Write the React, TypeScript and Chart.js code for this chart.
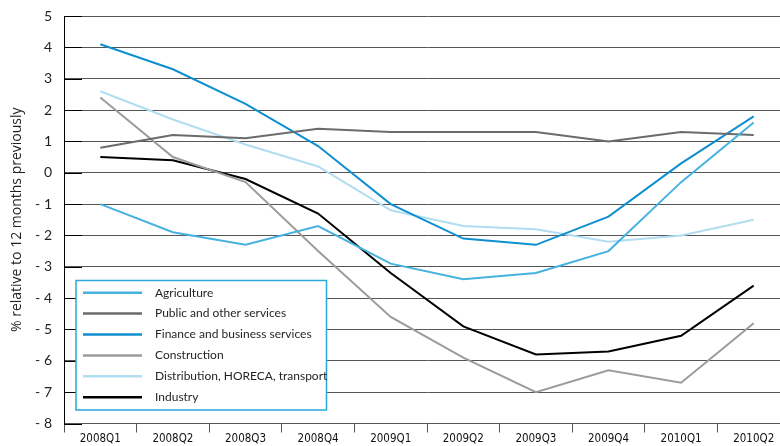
import React, { useEffect, useRef } from "react";
import { Chart, registerables } from "chart.js";

Chart.register(...registerables);

const categories = ["2008Q1", "2008Q2", "2008Q3", "2008Q4", "2009Q1", "2009Q2", "2009Q3", "2009Q4", "2010Q1", "2010Q2"];
const agriculture = [-1.0, -1.9, -2.3, -1.7, -2.9, -3.4, -3.2, -2.5, -0.3, 1.6];
const publicServices = [0.8, 1.2, 1.1, 1.4, 1.3, 1.3, 1.3, 1.0, 1.3, 1.2];
const finance = [4.1, 3.3, 2.2, 0.85, -1.0, -2.1, -2.3, -1.4, 0.3, 1.8];
const construction = [2.4, 0.5, -0.3, -2.5, -4.6, -5.9, -7.0, -6.3, -6.7, -4.8];
const distribution = [2.6, 1.7, 0.9, 0.2, -1.2, -1.7, -1.8, -2.2, -2.0, -1.5];
const industry = [0.5, 0.4, -0.2, -1.3, -3.2, -4.9, -5.8, -5.7, -5.2, -3.6];

const seriesNames = [
  "Agriculture",
  "Public and other services",
  "Finance and business services",
  "Construction",
  "Distribution, HORECA, transport",
  "Industry",
];
const seriesColors = ["#45b2e0", "#6a6b6d", "#0e8fd0", "#9c9c9c", "#b2ddf1", "#000000"];
const seriesData = [agriculture, publicServices, finance, construction, distribution, industry];

const yTitle = "% relative to 12 months previously";

const boxLegend = {
  id: "boxLegend",
  afterDraw(chart: any) {
    const ctx = chart.ctx;
    const yScale = chart.scales.y;
    const area = chart.chartArea;
    ctx.save();
    ctx.strokeStyle = "#000";
    ctx.lineWidth = 1;
    yScale.ticks.forEach((t: any) => {
      const yy = Math.round(yScale.getPixelForValue(t.value)) + 0.5;
      ctx.beginPath();
      ctx.moveTo(area.left, yy);
      ctx.lineTo(area.left + 18, yy);
      ctx.stroke();
    });
    const x0 = 76, y0 = 280.5, x1 = 326.5, y1 = 410;
    ctx.fillStyle = "#ffffff";
    ctx.fillRect(x0, y0, x1 - x0, y1 - y0);
    ctx.strokeStyle = "#2aa7dd";
    ctx.lineWidth = 1.5;
    ctx.strokeRect(x0, y0, x1 - x0, y1 - y0);
    ctx.font = "12px Lato";
    ctx.textBaseline = "middle";
    ctx.textAlign = "left";
    chart.data.datasets.forEach((ds: any, i: number) => {
      const yy = 292.7 + i * 20.9;
      ctx.strokeStyle = ds.borderColor;
      ctx.lineWidth = 2.5;
      ctx.beginPath();
      ctx.moveTo(83, yy);
      ctx.lineTo(142, yy);
      ctx.stroke();
      ctx.fillStyle = "#231f20";
      ctx.fillText(ds.label, 155, yy);
    });
    ctx.restore();
  },
};

export default function App() {
  const ref = useRef<HTMLCanvasElement | null>(null);
  useEffect(() => {
    if (!ref.current) return;
    const chart = new Chart(ref.current, {
      type: "line",
      data: {
        labels: categories,
        datasets: seriesNames.map((name, i) => ({
          label: name,
          data: seriesData[i],
          borderColor: seriesColors[i],
          backgroundColor: seriesColors[i],
          borderWidth: 2,
          pointRadius: 0,
          tension: 0,
          fill: false,
        })),
      },
      options: {
        responsive: false,
        animation: false,
        devicePixelRatio: 1,
        layout: { padding: { left: 0, right: 10, top: 16, bottom: 0 } },
        plugins: { legend: { display: false }, tooltip: { enabled: false } },
        scales: {
          x: {
            offset: true,
            grid: { offset: true, drawOnChartArea: false, drawTicks: true, tickLength: 9, color: "#555" },
            border: { display: true, color: "#555" },
            ticks: { color: "#111", font: { family: "DejaVu Sans Condensed", size: 11.5 }, padding: 0, maxRotation: 0, autoSkip: false },
            afterFit: (s: any) => { s.height = 22.5; },
          },
          y: {
            min: -8,
            max: 5,
            ticks: {
              stepSize: 1,
              color: "#231f20",
              padding: 12,
              font: { family: "Lato", size: 14 },
              callback: (v: any) => (Number(v) < 0 ? "- " + Math.abs(Number(v)) : String(v)),
            },
            grid: { color: "#555", drawTicks: false, tickLength: 0, lineWidth: 1 },
            border: { display: true, color: "#000", width: 1 },
            title: { display: true, text: yTitle, color: "#231f20", font: { family: "Open Sans", size: 14 }, padding: { top: 8.5, bottom: 0 } },
            afterFit: (s: any) => { s.width = 64; s.paddingTop = 0; s.paddingBottom = 0; },
          },
        },
      },
      plugins: [boxLegend],
    });
    return () => chart.destroy();
  }, []);
  return (
    <div style={{ position: "fixed", left: 0, top: 0, width: 780, height: 446, overflow: "hidden", background: "#fff" }}>
      <canvas ref={ref} width={800} height={446} style={{ width: 800, height: 446, display: "block" }} />
    </div>
  );
}
